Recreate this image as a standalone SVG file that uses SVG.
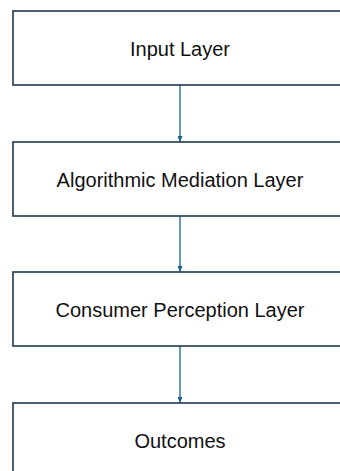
<svg xmlns="http://www.w3.org/2000/svg" width="340" height="471" viewBox="0 0 340 471">
<defs>
<marker id="arr" markerWidth="6" markerHeight="5" refX="6" refY="2.5" orient="auto" markerUnits="userSpaceOnUse">
<path d="M0,0 L6,2.5 L0,5 Z" fill="#1f6189"/>
</marker>
</defs>
<style>
.box{fill:#ffffff;stroke:#1e3a4c;stroke-width:1.6}
.lbl{font-family:"Liberation Sans",Arial,sans-serif;font-size:20px;fill:#111;text-anchor:middle;dominant-baseline:central}
.con{stroke:#1f6189;stroke-width:1.3;fill:none}
</style>
<rect width="340" height="471" fill="#ffffff"/>
<g id="connectors">
<line class="con" x1="180" y1="85" x2="180" y2="142" marker-end="url(#arr)"/>
<line class="con" x1="180" y1="216" x2="180" y2="272" marker-end="url(#arr)"/>
<line class="con" x1="180" y1="346" x2="180" y2="403" marker-end="url(#arr)"/>
</g>
<g id="input">
<rect class="box" x="13" y="11" width="334" height="74"/>
<text class="lbl" x="180" y="48.5">Input Layer</text>
</g>
<g id="mediation">
<rect class="box" x="13" y="142" width="334" height="74"/>
<text class="lbl" x="180" y="179.5">Algorithmic Mediation Layer</text>
</g>
<g id="perception">
<rect class="box" x="13" y="272" width="334" height="74"/>
<text class="lbl" x="180" y="309.5">Consumer Perception Layer</text>
</g>
<g id="outcomes">
<rect class="box" x="13" y="403" width="334" height="74"/>
<text class="lbl" x="180" y="440.5">Outcomes</text>
</g>
</svg>
